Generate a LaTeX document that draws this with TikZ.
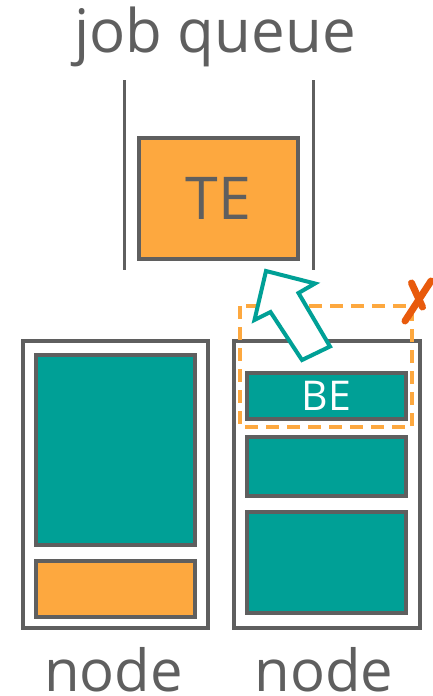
\documentclass[tikz,border=0pt]{standalone}
\usepackage{fontspec}
\setmainfont{Open Sans}
\definecolor{ink}{HTML}{5F5F5F}
\definecolor{tealfill}{HTML}{00A096}
\definecolor{ambfill}{HTML}{FDA83F}
\definecolor{crossred}{HTML}{E85A0C}
\begin{document}
\begin{tikzpicture}[x=1pt,y=-1pt,
  box/.style={draw=ink, line width=4pt, inner sep=0pt, outer sep=0pt, anchor=north west},
  label/.style={text=ink, inner sep=0pt, anchor=base},
  queueline/.style={draw=ink, line width=3pt},
  arrowshape/.style={draw=tealfill, fill=white, line width=4pt, line join=miter},
  reject/.style={draw=ambfill, line width=3.5pt, dash pattern=on 13pt off 8pt},
  cross/.style={draw=crossred, line width=7pt, line cap=round}]
\useasboundingbox (0,0) rectangle (433,696);

% queue with one waiting job
\node[label, font=\fontsize{60}{72}\selectfont] (qtitle) at (215,52) {job queue};
\coordinate (qlt) at (124,80);  \coordinate (qlb) at (124,270);
\coordinate (qrt) at (313,80);  \coordinate (qrb) at (313,270);
\draw[queueline] (qlt) -- (qlb);
\draw[queueline] (qrt) -- (qrb);
\node[box, fill=ambfill, minimum width=159pt, minimum height=121pt] (te) at (139,138) {};
\node[text=ink, inner sep=0pt, font=\fontsize{59}{70}\selectfont] (tetext) at (te.center) {TE};

% left node
\node[box, minimum width=185pt, minimum height=287pt] (nodeA) at (23,341) {};
\node[box, fill=tealfill, minimum width=159pt, minimum height=190pt] (a1) at (36,355) {};
\node[box, fill=ambfill, minimum width=159pt, minimum height=56pt] (a2) at (36,561) {};
\node[label, font=\fontsize{58}{70}\selectfont] (labA) at (113.5,691) {node};

% right node
\node[box, minimum width=186pt, minimum height=287pt] (nodeB) at (234,341) {};
\node[box, fill=tealfill, minimum width=159pt, minimum height=46pt] (be) at (247,373) {};
\node[text=white, inner sep=0pt, font=\fontsize{41}{50}\selectfont] (betext) at (be.center) {BE};
\node[box, fill=tealfill, minimum width=159pt, minimum height=59pt] (b2) at (247,437) {};
\node[box, fill=tealfill, minimum width=159pt, minimum height=101pt] (b3) at (247,512) {};
\node[label, font=\fontsize{58}{70}\selectfont] (labB) at (324,691) {node};

% rejected preemption region
\draw[reject] (240,306) rectangle (412,427);
\draw[cross] (411.5,283) -- (422.5,307);
\draw[cross] (405,321) -- (431,281);

% block arrow lifting BE towards the queue
\draw[arrowshape] (266,271) -- (315,283.5) -- (298.5,293) -- (330,346.5) -- (302,360) -- (270.5,312) -- (254.5,320) -- cycle;
\end{tikzpicture}
\end{document}
